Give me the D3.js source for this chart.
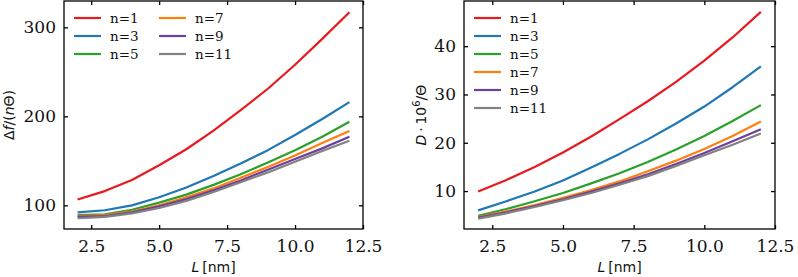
<!DOCTYPE html>
<head>
  <meta charset="utf-8">
  <title>L dependence</title>
  <script src="https://d3js.org/d3.v7.min.js"></script>
  <style>
    body { margin: 0; background: #fff; }
    .tick text { font-family: "DejaVu Serif", serif; font-size: 17px; fill: #111; }
    .leg { font-family: "DejaVu Serif", serif; font-size: 13.5px; fill: #111; }
    .lab { font-family: "DejaVu Sans", sans-serif; font-size: 14px; fill: #111; }
  </style>
</head>
<body>
<script>
    // thickness values L in nm
    var L = [2, 3, 4, 5, 6, 7, 8, 9, 10, 11, 12];
    var names = ["n=1", "n=3", "n=5", "n=7", "n=9", "n=11"];
    var colors = ["#e8191f", "#1f77b4", "#2ca02c", "#ff7f0e", "#6d3fa0", "#828282"];

    // left panel: delta f / (n Theta)
    var dfN1 = [106.5, 116, 128.5, 145, 163, 184, 207, 231, 258, 287, 317];
    var dfN3 = [92, 94.5, 100, 109, 120, 133, 147, 162, 179, 197, 216];
    var dfN5 = [89, 90, 95, 103, 112, 123, 135, 148, 162, 177, 194];
    var dfN7 = [88, 89, 93, 100, 109, 119, 131, 143, 156, 170, 183.5];
    var dfN9 = [87, 88, 92, 99, 107, 117, 128, 140, 152, 164, 177];
    var dfN11 = [85.5, 87, 91, 97, 105, 115, 126, 137, 149, 161, 172.5];

    // right panel: D * 10^6 / Theta
    var dN1 = [9.9, 12.3, 15, 18, 21.3, 24.9, 28.6, 32.6, 37, 41.8, 47.1];
    var dN3 = [6.0, 7.9, 9.9, 12.2, 14.9, 17.7, 20.7, 24.0, 27.5, 31.5, 35.8];
    var dN5 = [4.9, 6.3, 7.9, 9.6, 11.6, 13.7, 16.0, 18.6, 21.4, 24.5, 27.8];
    var dN7 = [4.6, 5.8, 7.1, 8.6, 10.2, 12.0, 14.1, 16.3, 18.7, 21.4, 24.4];
    var dN9 = [4.5, 5.6, 6.9, 8.3, 9.9, 11.6, 13.5, 15.6, 17.9, 20.3, 22.8];
    var dN11 = [4.3, 5.4, 6.7, 8.1, 9.6, 11.3, 13.1, 15.2, 17.4, 19.6, 21.9];

    var xTicks = [2.5, 5.0, 7.5, 10.0, 12.5];

    var svg = d3.select("body").append("svg")
        .attr("width", 798)
        .attr("height", 277);

    function drawPanel(opt) {
        var g = svg.append("g");
        var x = d3.scaleLinear().domain([1.5, 12.5]).range([opt.x0, opt.x1]);
        var y = d3.scaleLinear().domain(opt.ydom).range([opt.y1, opt.y0]);

        var line = d3.line()
            .x(function(d) { return x(d[0]); })
            .y(function(d) { return y(d[1]); });

        opt.series.forEach(function(s, i) {
            g.append("path")
                .datum(L.map(function(l, j) { return [l, s[j]]; }))
                .attr("fill", "none")
                .attr("stroke", colors[i])
                .attr("stroke-width", 2.2)
                .attr("stroke-linejoin", "round")
                .attr("d", line);
        });

        var fmt = d3.format(".1f");
        g.append("g").attr("transform", "translate(0," + opt.y1 + ")")
            .call(d3.axisBottom(x).tickValues(xTicks).tickFormat(fmt).tickSize(-4).tickPadding(11));
        g.append("g").attr("transform", "translate(0," + opt.y0 + ")")
            .call(d3.axisTop(x).tickValues(xTicks).tickFormat("").tickSize(-4));
        g.append("g").attr("transform", "translate(" + opt.x0 + ",0)")
            .call(d3.axisLeft(y).tickValues(opt.yticks).tickFormat(d3.format("d")).tickSize(-4).tickPadding(8));
        g.append("g").attr("transform", "translate(" + opt.x1 + ",0)")
            .call(d3.axisRight(y).tickValues(opt.yticks).tickFormat("").tickSize(-4));
        g.selectAll(".domain").remove();
        g.selectAll(".tick line").attr("stroke", "#000").attr("stroke-width", 1.3);

        g.append("rect")
            .attr("x", opt.x0).attr("y", opt.y0)
            .attr("width", opt.x1 - opt.x0).attr("height", opt.y1 - opt.y0)
            .attr("fill", "none").attr("stroke", "#000").attr("stroke-width", 1.3);

        // legend
        opt.series.forEach(function(s, i) {
            var col = Math.floor(i / opt.legRows);
            var row = i % opt.legRows;
            var lx = opt.legX + col * opt.legColW;
            var ly = opt.legY + row * 18;
            g.append("line")
                .attr("x1", lx).attr("x2", lx + 27)
                .attr("y1", ly).attr("y2", ly)
                .attr("stroke", colors[i]).attr("stroke-width", 2.2);
            g.append("text").attr("class", "leg")
                .attr("x", lx + 36).attr("y", ly + 4.5)
                .text(names[i]);
        });

        // x label
        var xl = g.append("text").attr("class", "lab")
            .attr("x", (opt.x0 + opt.x1) / 2).attr("y", 272)
            .attr("text-anchor", "middle");
        xl.append("tspan").attr("font-style", "italic").text("L");
        xl.append("tspan").attr("dx", 3).text("[nm]");

        // y label
        var yl = g.append("text").attr("class", "lab")
            .attr("transform", "translate(" + opt.ylx + "," + ((opt.y0 + opt.y1) / 2) + ") rotate(-90)")
            .attr("text-anchor", "middle");
        opt.ylabel(yl);
    }

    drawPanel({
        x0: 64, x1: 363, y0: 1, y1: 229,
        ydom: [73.4, 329.6],
        yticks: [100, 200, 300],
        series: [dfN1, dfN3, dfN5, dfN7, dfN9, dfN11],
        legX: 74, legY: 18, legRows: 3, legColW: 85,
        ylx: 14,
        ylabel: function(t) {
            t.append("tspan").text("\u0394");
            t.append("tspan").attr("font-style", "italic").text("f");
            t.append("tspan").text("/(");
            t.append("tspan").attr("font-style", "italic").text("n");
            t.append("tspan").text("\u0398)");
        }
    });

    drawPanel({
        x0: 464, x1: 775, y0: 1, y1: 229,
        ydom: [2.15, 49.35],
        yticks: [10, 20, 30, 40],
        series: [dN1, dN3, dN5, dN7, dN9, dN11],
        legX: 474, legY: 18, legRows: 6, legColW: 85,
        ylx: 426,
        ylabel: function(t) {
            t.append("tspan").attr("font-style", "italic").text("D");
            t.append("tspan").text("\u2009\u00b7\u200910");
            t.append("tspan").attr("font-size", "10px").attr("dy", -6).text("6");
            t.append("tspan").attr("dy", 6).text("/\u0398");
        }
    });
</script>
</body>
